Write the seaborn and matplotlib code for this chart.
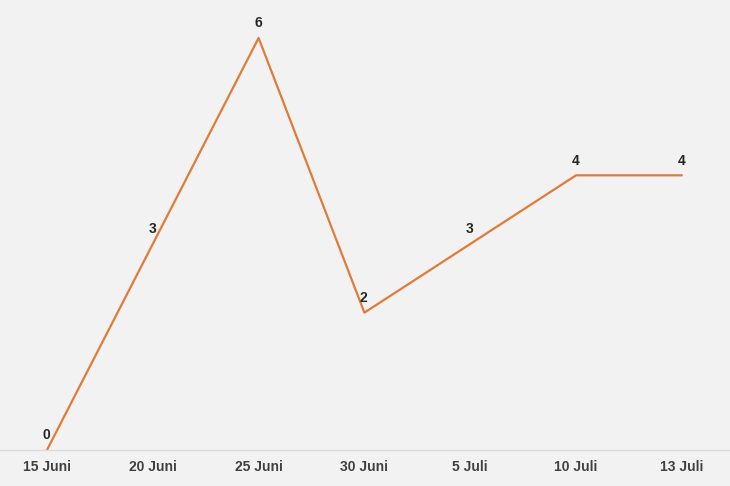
import pandas as pd
import matplotlib.pyplot as plt
import seaborn as sns

# data
dates = ['15 Juni', '20 Juni', '25 Juni', '30 Juni', '5 Juli', '10 Juli', '13 Juli']
values = [0, 3, 6, 2, 3, 4, 4]

df = pd.DataFrame({'pos': range(len(dates)), 'value': values})

sns.set_theme(style="white")
plt.rcParams['font.family'] = ['Liberation Sans', 'DejaVu Sans']

bg = '#f2f2f2'
line_color = '#e07b39'

fig = plt.figure(figsize=(7.3, 4.86), dpi=100, facecolor=bg)
ax = fig.add_axes([0, 36 / 486, 1, 450 / 486])
ax.set_facecolor(bg)

sns.lineplot(data=df, x='pos', y='value', color=line_color, linewidth=1.6, ax=ax)

for x, y in zip(df['pos'], df['value']):
    ax.annotate(f'{y}', (x, y), xytext=(-0.5, 10.5), textcoords='offset points',
                ha='center', va='center', fontsize=10, fontweight='bold', color='#262626')

ax.set_xlim(-0.444, 6.455)
ax.set_ylim(0, 6.553)
ax.set_xticks(df['pos'])
ax.set_xticklabels(dates, fontsize=10, fontweight='bold', color='#404040')
ax.tick_params(axis='x', length=0, pad=7)
ax.set_yticks([])
ax.set_xlabel('')
ax.set_ylabel('')

for side in ['top', 'left', 'right']:
    ax.spines[side].set_visible(False)
ax.spines['bottom'].set_color('#d9d9d9')
ax.spines['bottom'].set_linewidth(1)

fig.savefig('out.png', dpi=100, facecolor=bg)
